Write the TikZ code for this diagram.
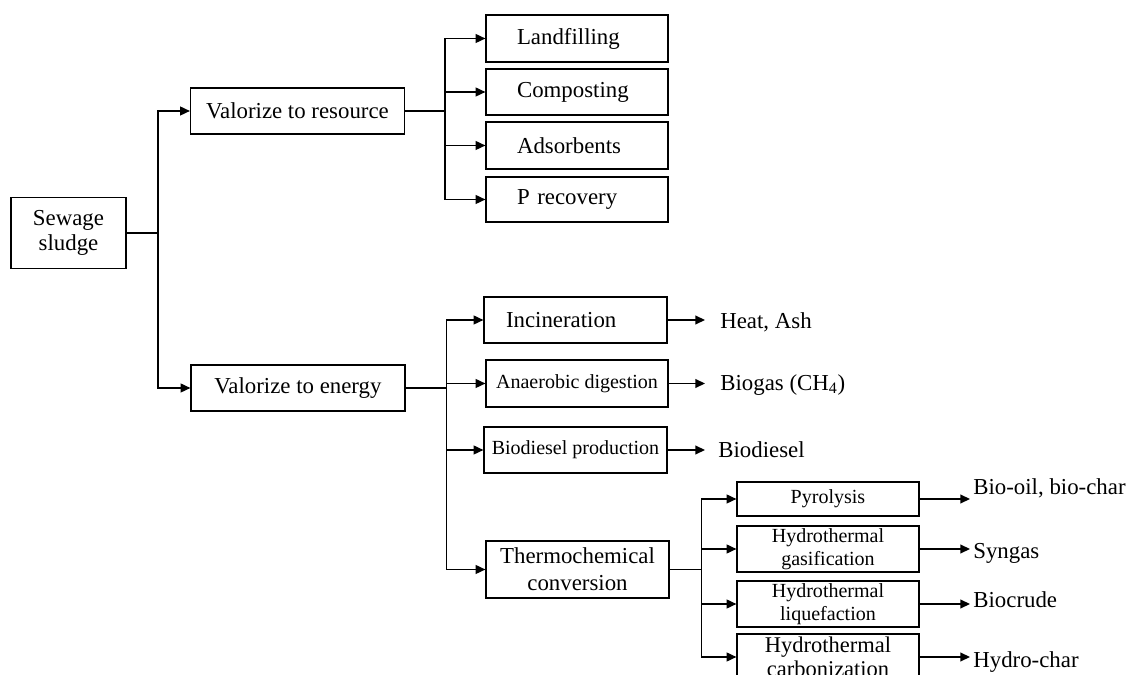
\documentclass[tikz,border=0pt]{standalone}
\usepackage{fontspec}
\setmainfont{Liberation Serif}
\usetikzlibrary{arrows.meta}
\begin{document}
\begin{tikzpicture}[x=.02cm,y=-.02cm,font=\fontsize{13}{14}\selectfont,
box/.style={draw,line width=.7pt,inner sep=0pt,align=center,minimum width=3.64cm,minimum height=.92cm},
smalltext/.style={font=\fontsize{11.4}{13}\selectfont},
leftpad/.style={align=left,inner xsep=.62cm,text width=2.4cm},
link/.style={line width=.8pt},
arr/.style={link,-{Triangle[length=5.5pt,width=5pt]}},
outlabel/.style={anchor=west,inner xsep=#1},
outlabel/.default=.3cm]
\clip (0,0) rectangle (1130,675);
\node[box,minimum width=2.3cm,minimum height=1.42cm,font=\fontsize{13}{13.8}\selectfont] (sludge) at (68.5,233) {Sewage\\sludge};
\node[box,minimum width=4.28cm] (resource) at (297.5,111) {Valorize to resource};
\node[box,minimum width=4.28cm] (energy) at (298,388) {Valorize to energy};
\node[box,leftpad,minimum height=.94cm] (landfill) at (577,38.5) {Landfilling};
\node[box,leftpad] (compost) at (577,92) {Composting};
\node[box,leftpad,minimum height=.94cm] (adsorb) at (577,145.5) {Adsorbents};
\node[box,leftpad,minimum height=.9cm] (precov) at (577,199.5) {P recovery};
\node[box,align=left,inner xsep=.44cm,text width=2.78cm] (incin) at (575.5,320) {Incineration};
\node[box,smalltext,minimum height=.94cm] (anaer) at (577,383.5) {Anaerobic digestion};
\node[box,smalltext,minimum width=3.66cm] (biodsl) at (575.5,450) {Biodiesel production};
\node[box,minimum width=3.66cm,minimum height=1.14cm,font=\fontsize{13}{15.3}\selectfont] (thermo) at (577.5,569.5) {Thermochemical\\conversion};
\node[box,smalltext,minimum height=.68cm] (pyro) at (828,499) {Pyrolysis};
\node[box,smalltext] (gasif) at (828,549) {Hydrothermal\\gasification};
\node[box,smalltext] (liquef) at (828,604) {Hydrothermal\\liquefaction};
\node[box,font=\fontsize{12.8}{14}\selectfont] (carbon) at (828,657) {Hydrothermal\\carbonization};
\node[outlabel] (heat) at (705,322) {Heat, Ash};
\node[outlabel] (biogas) at (705,385) {Biogas (CH\textsubscript{4})};
\node[outlabel=.26cm] (biodiesel) at (705,450) {Biodiesel};
\node[outlabel=.06cm] (oilchar) at (970,488) {Bio-oil, bio-char};
\node[outlabel=.06cm] (syngas) at (970,553) {Syngas};
\node[outlabel=.06cm] (biocrude) at (970,600) {Biocrude};
\node[outlabel=.06cm] (hydrochar) at (970,662) {Hydro-char};
\draw[link] (sludge.east) -- ++(31.5,0) coordinate (j1);
\draw[link] (resource.east) -- ++(40,0) coordinate (j2);
\draw[link] (energy.east) -- ++(41,0) coordinate (j3);
\draw[link] (thermo.east) -- ++(32,0) coordinate (j4);
\foreach \n in {resource,energy} \draw[arr] (j1) |- (\n.west);
\foreach \n in {landfill,compost,adsorb,precov} \draw[arr] (j2) |- (\n.west);
\foreach \n in {incin,anaer,biodsl,thermo} \draw[arr] (j3) |- (\n.west);
\foreach \n in {pyro,gasif,liquef,carbon} \draw[arr] (j4) |- (\n.west);
\foreach \a/\b in {incin/heat,anaer/biogas,biodsl/biodiesel,pyro/oilchar,gasif/syngas,liquef/biocrude,carbon/hydrochar} \draw[arr] (\a.east) -- (\a.east -| \b.west);
\end{tikzpicture}
\end{document}
